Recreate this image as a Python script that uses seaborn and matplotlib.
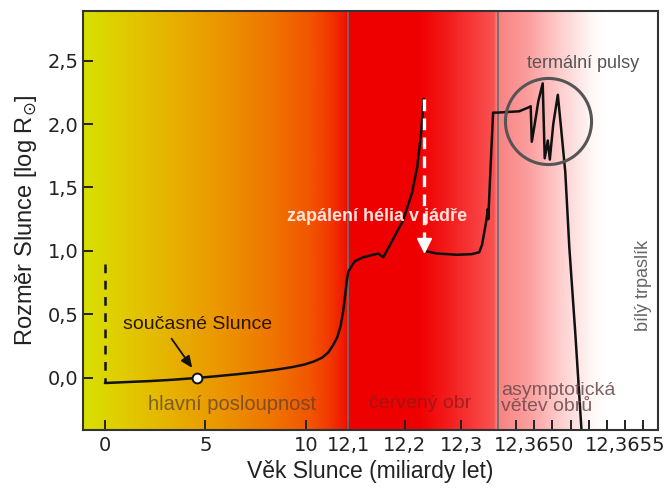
import numpy as np
import pandas as pd
import matplotlib
matplotlib.use("Agg")
import matplotlib.pyplot as plt
import seaborn as sns

# ---------------- data (age in billions of years, size in log R_sun) ----------------
pre_age = [0.0, 0.0]
pre_size = [0.90, -0.03]

ms_age = [0.0, 1.0, 2.2, 3.4, 4.57, 5.5, 6.5, 7.5, 8.5, 9.3, 9.9, 10.4, 10.8,
          11.1, 11.35, 11.55, 11.72, 11.85, 11.95, 12.03, 12.1]
ms_size = [-0.04, -0.033, -0.025, -0.014, 0.0, 0.013, 0.028, 0.045, 0.065,
           0.085, 0.105, 0.13, 0.16, 0.20, 0.26, 0.32, 0.41, 0.53, 0.66, 0.77, 0.84]

rgb_age = [12.1035, 12.107, 12.112, 12.126, 12.153, 12.162, 12.179, 12.197,
           12.213, 12.222, 12.229, 12.2335]
rgb_size = [0.86, 0.89, 0.92, 0.95, 0.98, 0.95, 1.09, 1.24, 1.46, 1.66, 1.93, 2.20]

hb_age = [12.2355, 12.257, 12.293, 12.319, 12.332, 12.337, 12.343, 12.3455,
          12.347, 12.348, 12.351, 12.3565, 12.3638]
hb_size = [1.00, 0.98, 0.97, 0.975, 0.99, 1.05, 1.20, 1.27, 1.33, 1.25, 1.56, 2.09, 2.09]

agb_age = [12.3648, 12.364918, 12.364968, 12.364981, 12.364987, 12.365001,
           12.365023, 12.365047, 12.365058, 12.365075, 12.365086, 12.365105,
           12.365130, 12.365149, 12.365171, 12.365193, 12.365226, 12.365259,
           12.365270]
agb_size = [2.09, 2.10, 2.13, 2.14, 1.86, 1.98, 2.18, 2.32, 1.73, 1.87, 1.72,
            2.00, 2.23, 1.95, 1.62, 1.03, 0.35, -0.39, -0.60]

sun_now_age, sun_now_size = 4.57, 0.0
flash_age, flash_top, flash_bottom = 12.2335, 2.20, 1.0
pulses_age, pulses_size = 12.365077, 2.02

x_ticks = [0, 5, 10, 12.1, 12.2, 12.3, 12.3650, 12.3655]
x_ticklabels = ["0", "5", "10", "12,1", "12,2", "12,3", "12,3650", "12,3655"]
x_minor = [12.3649, 12.3651, 12.3652, 12.3653, 12.3654, 12.3656]
y_ticks = [0.0, 0.5, 1.0, 1.5, 2.0, 2.5]
y_ticklabels = ["0,0", "0,5", "1,0", "1,5", "2,0", "2,5"]
phase_bounds = [12.1, 12.3644]

# ---------------- broken (piecewise linear) age axis ----------------
XP = np.array([-1.1, 12.1, 12.364, 12.3648, 12.3657])
UP = np.array([82.9, 348.2, 497.1, 497.5, 661.3])


def _pw(v, xp, fp):
    v = np.asarray(v, dtype=float)
    out = np.interp(v, xp, fp)
    lo = v < xp[0]
    hi = v > xp[-1]
    s0 = (fp[1] - fp[0]) / (xp[1] - xp[0])
    s1 = (fp[-1] - fp[-2]) / (xp[-1] - xp[-2])
    out = np.where(lo, fp[0] + (v - xp[0]) * s0, out)
    out = np.where(hi, fp[-1] + (v - xp[-1]) * s1, out)
    return out


def fwd(a):
    return _pw(a, XP, UP)


def inv(u):
    return _pw(u, UP, XP)


# ---------------- figure ----------------
sns.set_theme(style="ticks")
plt.rcParams["font.family"] = ["DejaVu Sans"]
TXT = ["Liberation Sans", "DejaVu Sans"]

fig = plt.figure(figsize=(6.72, 4.91), dpi=100)
pos = [83 / 672, 61 / 491, 575 / 672, 419 / 491]

# background colour band (stellar phases)
bg = fig.add_axes(pos, zorder=0)
stops_px = [83, 120, 170, 220, 270, 310, 330, 344, 347, 349, 420, 450, 494, 497,
            530, 560, 590, 605, 658]
stops_rgb = [(216, 224, 0), (224, 205, 0), (230, 178, 0), (235, 150, 0),
             (239, 118, 0), (242, 85, 0), (242, 55, 0), (240, 25, 0),
             (238, 12, 0), (238, 0, 0), (240, 0, 0), (244, 30, 30),
             (250, 82, 82), (250, 128, 128), (252, 160, 160), (254, 205, 205),
             (255, 245, 245), (255, 255, 255), (255, 255, 255)]
xs = np.linspace(83, 658, 1200)
grad = np.stack([np.interp(xs, stops_px, [c[i] for c in stops_rgb]) for i in range(3)], axis=-1) / 255.0
bg.imshow(grad[None, :, :], aspect="auto", extent=[0, 1, 0, 1])
bg.set_axis_off()

ax = fig.add_axes(pos, zorder=1)
ax.set_facecolor("none")
ax.set_xscale("function", functions=(fwd, inv))

tracks = pd.concat([
    pd.DataFrame({"age": ms_age + rgb_age, "size": ms_size + rgb_size, "track": "early"}),
    pd.DataFrame({"age": hb_age + agb_age, "size": hb_size + agb_size, "track": "late"}),
], ignore_index=True)

sns.lineplot(data=tracks, x="age", y="size", units="track", estimator=None,
             sort=False, color="#111111", lw=1.8, ax=ax, legend=False)

# pre-main-sequence contraction (dashed)
ax.plot(pre_age, pre_size, color="#111111", lw=1.8, ls=(0, (3.5, 3)))

# helium flash (white dashed arrow)
ax.plot([flash_age, flash_age], [flash_top, flash_bottom + 0.08], color="white",
        lw=2.4, ls=(0, (3.5, 2.2)))
ax.plot([flash_age], [flash_bottom + 0.05], marker="v", ms=10, color="white",
        mec="white", ls="none")

# present-day Sun
sns.scatterplot(x=[sun_now_age], y=[sun_now_size], s=50, color="white",
                edgecolor="#111111", linewidth=1.4, ax=ax, zorder=5, legend=False)

# thermal pulses circle
ax.plot([pulses_age], [pulses_size], marker="o", ms=62, mfc="none",
        mec="#555555", mew=2.2, ls="none")

# phase boundaries
for b in phase_bounds:
    ax.axvline(b, color="#6e6e6e", lw=1.3, zorder=1)

ax.set_xlim(-1.09, 12.36568)
ax.set_ylim(-0.41, 2.89)
ax.set_xticks(x_ticks)
ax.set_xticklabels(x_ticklabels)
ax.set_xticks(x_minor, minor=True)
ax.set_yticks(y_ticks)
ax.set_yticklabels(y_ticklabels)
ax.tick_params(axis="both", which="both", direction="in", length=7, width=1.4,
               color="#222222", labelsize=14, labelcolor="#222222")
ax.tick_params(axis="x", which="both", pad=4)
ax.tick_params(axis="y", pad=3)
for s in ax.spines.values():
    s.set_color("#333333")
    s.set_linewidth(1.5)

ax.set_xlabel("Věk Slunce (miliardy let)", family=TXT, fontsize=16.5,
              color="#222222", labelpad=4)
ax.set_ylabel("Rozměr Slunce [log R$_{\\odot}$]", family=TXT, fontsize=17,
              color="#222222", labelpad=6)

# annotations
ax.annotate("současné Slunce", xy=(4.38, 0.07), xytext=(4.6, 0.42),
            ha="center", va="center", family=TXT, fontsize=14, color="#2a1500",
            arrowprops=dict(arrowstyle="-|>,head_length=0.5,head_width=0.22",
                            color="#111111", lw=1.3, relpos=(0.3, 0.0),
                            shrinkA=2, shrinkB=1))
ax.text(6.3, -0.21, "hlavní posloupnost", ha="center", va="center", family=TXT,
        fontsize=14.5, color="#5a4030", alpha=0.75)
ax.text(12.227, -0.20, "červený obr", ha="center", va="center", family=TXT,
        fontsize=14, color="#8a1a1a", alpha=0.75)
ax.text(12.364819, -0.16, "asymptotická\nvětev obrů", ha="left", va="center",
        family=TXT, fontsize=14, color="#6a4848", alpha=0.85, linespacing=0.95)
ax.text(12.3656, 0.73, "bílý trpaslík", ha="center", va="center", rotation=90,
        family=TXT, fontsize=13, color="#666666")
ax.text(12.36527, 2.48, "termální pulsy", ha="center", va="center", family=TXT,
        fontsize=13, color="#555555")
ax.text(12.151, 1.27, "zapálení hélia v jádře", ha="center", va="center",
        family=TXT, fontsize=13, fontweight="bold", color="#ffe2da")

fig.savefig("out.png", dpi=100)
